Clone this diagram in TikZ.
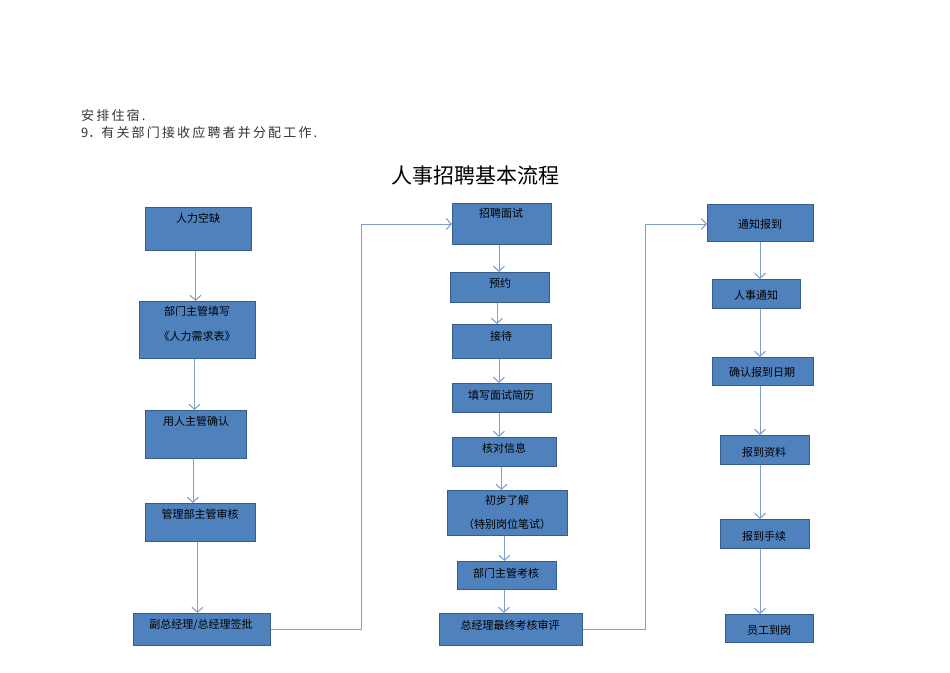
\documentclass[tikz,border=0pt]{standalone}
\usepackage{fontspec}
\setmainfont{Liberation Serif}
\newfontfamily\cjk{Noto Sans CJK SC}
\usetikzlibrary{arrows.meta}
\definecolor{boxfill}{HTML}{4F81BD}
\definecolor{boxline}{HTML}{385D8A}
\definecolor{arrline}{HTML}{7F9FCF}
\tikzset{
  box/.style={draw=boxline,fill=boxfill,line width=0.9pt,anchor=north west,inner sep=0pt},
  txt/.style={font=\cjk\fontsize{11}{11}\selectfont,inner sep=0pt,anchor=center},
  arr/.style={draw=arrline,line width=0.9pt,-{Straight Barb[length=5pt,width=11pt,line width=1.1pt]}}
}
\newcommand\bx[5]{\node[box,minimum width={#4pt-#2pt},minimum height={#5pt-#3pt}] (#1) at (#2,#3) {};}
\begin{document}
\begin{tikzpicture}[x=1pt,y=-1pt]
\useasboundingbox (0,0) rectangle (950,672);
\node[anchor=west,inner sep=0pt,font=\cjk\fontsize{13}{13}\selectfont,color=black!80] (l1) at (81,116) {安\,排\,住\,宿\,.};
\node[anchor=west,inner sep=0pt,font=\cjk\fontsize{13}{13}\selectfont,color=black!80] (l2) at (81,133) {9．有\,关\,部\,门\,接\,收\,应\,聘\,者\,并\,分\,配\,工\,作\,.};
\node[inner sep=0pt,font=\cjk\fontsize{21}{21}\selectfont] (title) at (475,176) {人事招聘基本流程};
% left
\bx{a1}{145}{207}{251}{250}
\bx{a2}{139}{301}{255}{358}
\bx{a3}{145}{410}{246}{458}
\bx{a4}{145}{503}{255}{541}
\bx{a5}{133}{613}{270}{645}
\node[txt] (ta1) at (198,218) {人力空缺};
\node[txt] (ta2) at (197,311) {部门主管填写};
\node[txt] (ta2b) at (197,336) {《人力需求表》};
\node[txt] (ta3) at (196,421) {用人主管确认};
\node[txt] (ta4) at (200,514) {管理部主管审核};
\node[txt] (ta5) at (201,625) {副总经理/总经理签批};
% middle
\bx{b1}{452}{203}{551}{244}
\bx{b2}{450}{272}{549}{302}
\bx{b3}{452}{324}{551}{358}
\bx{b4}{452}{383}{551}{412}
\bx{b5}{452}{437}{556}{466}
\bx{b6}{447}{490}{567}{535}
\bx{b7}{457}{561}{556}{589}
\bx{b8}{439}{613}{582}{645}
\node[txt] (tb1) at (501,213) {招聘面试};
\node[txt] (tb2) at (500,283) {预约};
\node[txt] (tb3) at (501,336) {接待};
\node[txt] (tb4) at (501,395) {填写面试简历};
\node[txt] (tb5) at (504,448) {核对信息};
\node[txt] (tb6) at (507,500) {初步了解};
\node[txt] (tb6b) at (507,524) {（特别岗位笔试）};
\node[txt] (tb7) at (506,573) {部门主管考核};
\node[txt] (tb8) at (510,625) {总经理最终考核审评};
% right
\bx{c1}{707}{204}{813}{241}
\bx{c2}{712}{279}{800}{308}
\bx{c3}{712}{357}{813}{385}
\bx{c4}{720}{435}{809}{464}
\bx{c5}{720}{519}{809}{548}
\bx{c6}{725}{614}{813}{642}
\node[txt] (tc1) at (760,224) {通知报到};
\node[txt] (tc2) at (756,295) {人事通知};
\node[txt] (tc3) at (762,372) {确认报到日期};
\node[txt] (tc4) at (764,452) {报到资料};
\node[txt] (tc5) at (764,536) {报到手续};
\node[txt] (tc6) at (769,630) {员工到岗};
% arrows
\foreach \p/\q in {a1/a2,a2/a3,a3/a4,a4/a5,b1/b2,b2/b3,b3/b4,b4/b5,b5/b6,b6/b7,b7/b8}
  \draw[arr] ([xshift=-3pt]\p.south) -- ([xshift=-3pt]\p.south |- \q.north);
\foreach \p/\q in {c1/c2,c2/c3,c3/c4,c4/c5,c5/c6}
  \draw[arr] (\p.south -| 760,0) -- (760,0 |- \q.north);
\draw[arr] (a5.east) -- (361,0 |- a5.east) -- (361,224) -- (b1.west |- 0,224);
\draw[arr] (b8.east) -- (645,0 |- b8.east) -- (645,224) -- (c1.west |- 0,224);
\end{tikzpicture}
\end{document}
